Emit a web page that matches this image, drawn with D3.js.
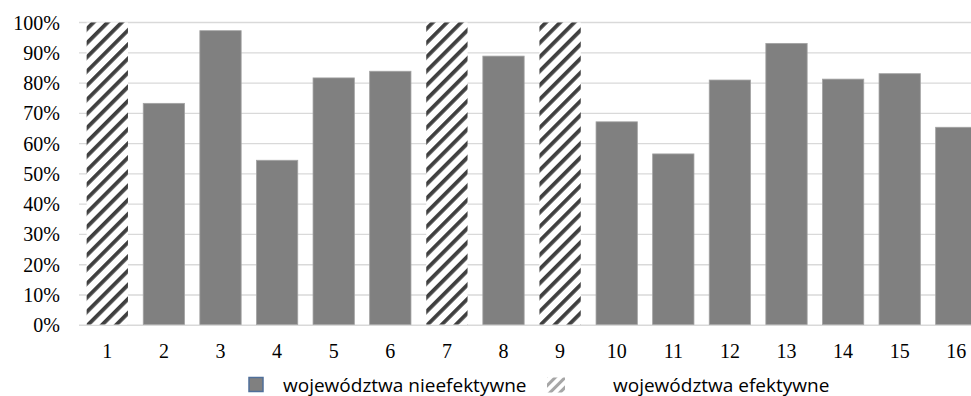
<!DOCTYPE html>
<html>
<head>
<meta charset="utf-8">
<script src="https://cdn.jsdelivr.net/npm/d3@7"></script>
<style>
  html, body { margin: 0; padding: 0; background: #fff; overflow: hidden; }
  svg { display: block; }
</style>
</head>
<body>
<svg id="chart" width="971" height="396"></svg>
<script>
// ---- data ----
const categories = ["1","2","3","4","5","6","7","8","9","10","11","12","13","14","15","16"];
const values = [1.00, 0.733, 0.973, 0.545, 0.817, 0.839, 1.00, 0.889, 1.00, 0.672, 0.566, 0.810, 0.931, 0.813, 0.831, 0.654];
const groups = ["efektywne","nieefektywne","nieefektywne","nieefektywne","nieefektywne","nieefektywne","efektywne","nieefektywne","efektywne","nieefektywne","nieefektywne","nieefektywne","nieefektywne","nieefektywne","nieefektywne","nieefektywne"];
const yTicks = [0, 0.1, 0.2, 0.3, 0.4, 0.5, 0.6, 0.7, 0.8, 0.9, 1.0];
const legendLabels = ["województwa nieefektywne", "województwa efektywne"];

// ---- drawing ----
const svg = d3.select("#chart");
const plotLeft = 79, step = 56.6, plotBottom = 325.3, plotTop = 22.5;

const x = d3.scaleBand().domain(categories)
  .range([plotLeft, plotLeft + step * categories.length])
  .paddingInner(0.27).paddingOuter(0.135);
const y = d3.scaleLinear().domain([0, 1]).range([plotBottom, plotTop]);

const defs = svg.append("defs");
const pat = defs.append("pattern").attr("id", "hatch")
  .attr("patternUnits", "userSpaceOnUse").attr("width", 10).attr("height", 10)
  .attr("patternTransform", "rotate(45)");
pat.append("rect").attr("width", 10).attr("height", 10).attr("fill", "#fff");
pat.append("rect").attr("width", 3.8).attr("height", 10).attr("fill", "#3f3f3f");

const patL = defs.append("pattern").attr("id", "hatchLight")
  .attr("patternUnits", "userSpaceOnUse").attr("width", 7).attr("height", 7)
  .attr("patternTransform", "rotate(45)");
patL.append("rect").attr("width", 7).attr("height", 7).attr("fill", "#fff");
patL.append("rect").attr("width", 3).attr("height", 7).attr("fill", "#a6a6a6");

// gridlines
svg.append("g").selectAll("line").data(yTicks).join("line")
  .attr("x1", plotLeft).attr("x2", 971)
  .attr("y1", d => y(d)).attr("y2", d => y(d))
  .attr("stroke", "#d9d9d9").attr("stroke-width", d => d === 0 ? 1.6 : 1.3);

// y labels
svg.append("g").selectAll("text").data(yTicks).join("text")
  .attr("x", 60).attr("y", d => y(d) + 7)
  .attr("text-anchor", "end")
  .attr("font-family", "'Liberation Serif', 'Times New Roman', serif")
  .attr("font-size", 20).attr("fill", "#000")
  .text(d => d3.format(".0%")(d));

// bars
svg.append("g").selectAll("rect").data(categories).join("rect")
  .attr("x", (d) => x(d))
  .attr("width", x.bandwidth())
  .attr("y", (d, i) => y(values[i]))
  .attr("height", (d, i) => y(0) - y(values[i]) - 0.8)
  .attr("fill", (d, i) => groups[i] === "efektywne" ? "url(#hatch)" : "#808080")
  .attr("stroke", (d, i) => groups[i] === "efektywne" ? "none" : "#a3a3a3")
  .attr("stroke-width", 0.8);

// x labels
svg.append("g").selectAll("text").data(categories).join("text")
  .attr("x", d => x(d) + x.bandwidth() / 2).attr("y", 358)
  .attr("text-anchor", "middle")
  .attr("font-family", "'Liberation Serif', 'Times New Roman', serif")
  .attr("font-size", 20).attr("fill", "#000")
  .text(d => d);

// legend
const lg = svg.append("g");
lg.append("rect").attr("x", 249).attr("y", 377.5).attr("width", 14).attr("height", 14)
  .attr("fill", "#808080").attr("stroke", "#4f6f9a").attr("stroke-width", 1.5);
lg.append("text").attr("x", 283).attr("y", 391.5)
  .attr("font-family", "'Open Sans', 'Noto Sans', sans-serif")
  .attr("font-size", 19).attr("fill", "#000").text(legendLabels[0]);
lg.append("rect").attr("x", 547).attr("y", 377.5).attr("width", 18).attr("height", 15)
  .attr("fill", "url(#hatchLight)");
lg.append("text").attr("x", 613).attr("y", 391.5)
  .attr("font-family", "'Open Sans', 'Noto Sans', sans-serif")
  .attr("font-size", 19).attr("fill", "#000").text(legendLabels[1]);
</script>
</body>
</html>
